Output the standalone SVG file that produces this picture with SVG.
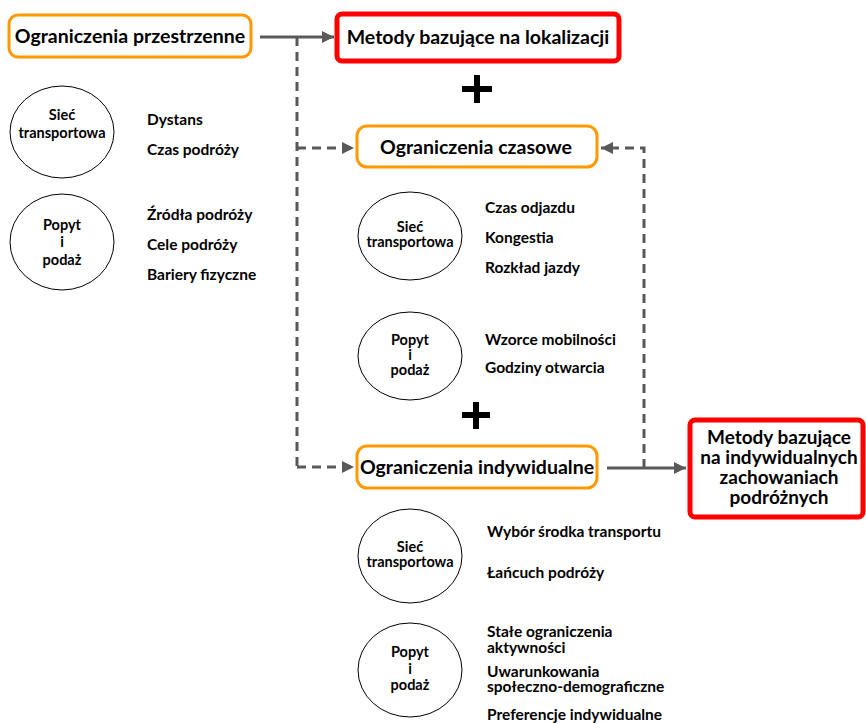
<svg xmlns="http://www.w3.org/2000/svg" width="866" height="723" viewBox="0 0 866 723">
<defs>
<marker id="ah" viewBox="0 0 12 12" refX="12" refY="6" markerWidth="12" markerHeight="12" markerUnits="userSpaceOnUse" orient="auto">
<path d="M0,0 L12,6 L0,12 Z" fill="#595959"/>
</marker>
</defs>
<style>
text{font-family:Lato,"Liberation Sans",sans-serif;font-weight:bold;fill:#000}
.h{font-size:19.5px;text-anchor:middle}
.c{font-size:14.5px;text-anchor:middle}
.l{font-size:15.5px}
.ob{fill:#fff;stroke:#FF9900;stroke-width:3}
.rb{fill:#fff;stroke:#FF0000;stroke-width:5}
.ci{fill:#fff;stroke:#000;stroke-width:1}
.s{fill:none;stroke:#595959;stroke-width:3}
.d{fill:none;stroke:#595959;stroke-width:3;stroke-dasharray:9 6}
.p{stroke:#000;stroke-width:6}
</style>
<g id="connectors">
<path class="s" d="M260,37 H334" marker-end="url(#ah)"/>
<path class="d" d="M297,37 V467"/>
<path class="d" d="M297,148 H354" marker-end="url(#ah)"/>
<path class="d" d="M297,467 H354" marker-end="url(#ah)"/>
<path class="s" d="M607,468 H686" marker-end="url(#ah)"/>
<path class="d" d="M644,468 V148 H601" marker-end="url(#ah)"/>
</g>
<g id="n-przestrzenne">
<rect class="ob" x="9" y="15" width="242" height="42" rx="9"/>
<text class="h" x="130" y="43">Ograniczenia przestrzenne</text>
</g>
<g id="n-lokalizacji">
<rect class="rb" x="337" y="14" width="282" height="47" rx="5"/>
<text class="h" x="478" y="44">Metody bazujące na lokalizacji</text>
</g>
<g id="plus1"><path class="p" d="M462,89 H492 M477,75 V103"/></g>
<g id="n-czasowe">
<rect class="ob" x="357" y="126" width="240" height="41" rx="10"/>
<text class="h" x="476" y="154">Ograniczenia czasowe</text>
</g>
<g id="plus2"><path class="p" d="M462,415 H490 M476,402 V429"/></g>
<g id="n-indywidualne">
<rect class="ob" x="357" y="446" width="240" height="42" rx="10"/>
<text class="h" x="477" y="474">Ograniczenia indywidualne</text>
</g>
<g id="n-indywidualnych">
<rect class="rb" x="690" y="420" width="173" height="97" rx="5"/>
<text class="h" x="779" y="444" style="font-size:19px">Metody bazujące</text>
<text class="h" x="779" y="464" style="font-size:19px">na indywidualnych</text>
<text class="h" x="779" y="484" style="font-size:19px">zachowaniach</text>
<text class="h" x="779" y="504" style="font-size:19px">podróżnych</text>
</g>
<g id="c1">
<ellipse class="ci" cx="62" cy="132" rx="52" ry="46"/>
<text class="c" x="62" y="120">Sieć</text>
<text class="c" x="62" y="138">transportowa</text>
</g>
<g id="c1-labels">
<text class="l" x="147" y="125">Dystans</text>
<text class="l" x="147" y="155">Czas podróży</text>
</g>
<g id="c2">
<ellipse class="ci" cx="62" cy="242" rx="52" ry="48"/>
<text class="c" x="62" y="230">Popyt</text>
<text class="c" x="62" y="247">i</text>
<text class="c" x="62" y="265">podaż</text>
</g>
<g id="c2-labels">
<text class="l" x="147" y="220">Źródła podróży</text>
<text class="l" x="147" y="250">Cele podróży</text>
<text class="l" x="147" y="280">Bariery fizyczne</text>
</g>
<g id="c3">
<ellipse class="ci" cx="410" cy="236" rx="52" ry="44"/>
<text class="c" x="410" y="232">Sieć</text>
<text class="c" x="410" y="247">transportowa</text>
</g>
<g id="c3-labels">
<text class="l" x="485" y="213">Czas odjazdu</text>
<text class="l" x="485" y="243">Kongestia</text>
<text class="l" x="485" y="273">Rozkład jazdy</text>
</g>
<g id="c4">
<ellipse class="ci" cx="410" cy="356" rx="52" ry="44"/>
<text class="c" x="410" y="345">Popyt</text>
<text class="c" x="410" y="360">i</text>
<text class="c" x="410" y="375">podaż</text>
</g>
<g id="c4-labels">
<text class="l" x="485" y="345">Wzorce mobilności</text>
<text class="l" x="485" y="373">Godziny otwarcia</text>
</g>
<g id="c5">
<ellipse class="ci" cx="410" cy="556" rx="52" ry="47"/>
<text class="c" x="410" y="552">Sieć</text>
<text class="c" x="410" y="567">transportowa</text>
</g>
<g id="c5-labels">
<text class="l" x="487" y="537">Wybór środka transportu</text>
<text class="l" x="487" y="578">Łańcuch podróży</text>
</g>
<g id="c6">
<ellipse class="ci" cx="410" cy="670" rx="52" ry="47"/>
<text class="c" x="410" y="657">Popyt</text>
<text class="c" x="410" y="674">i</text>
<text class="c" x="410" y="690">podaż</text>
</g>
<g id="c6-labels">
<text class="l" x="487" y="637">Stałe ograniczenia</text>
<text class="l" x="487" y="653">aktywności</text>
<text class="l" x="487" y="677">Uwarunkowania</text>
<text class="l" x="487" y="692">społeczno-demograficzne</text>
<text class="l" x="487" y="720">Preferencje indywidualne</text>
</g>
</svg>
